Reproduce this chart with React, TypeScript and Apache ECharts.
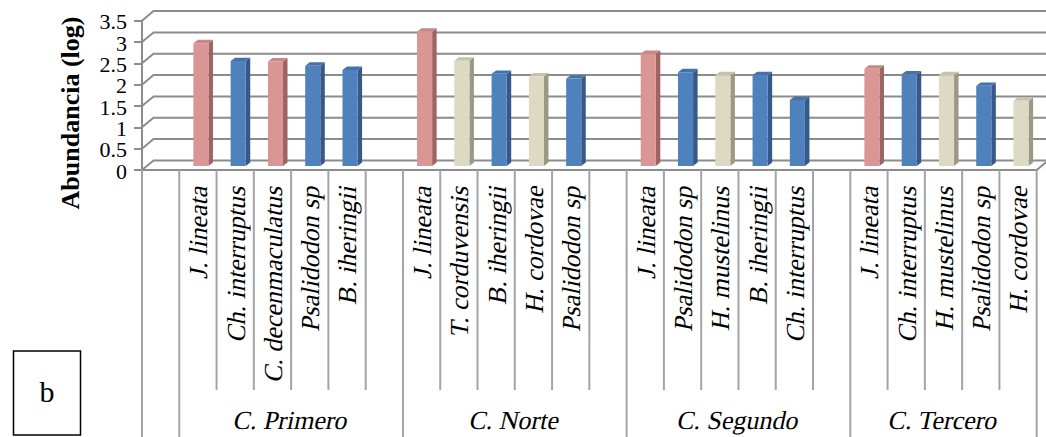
import React, { useEffect, useRef } from "react";
import * as echarts from "echarts";

const WIDTH = 1046;
const HEIGHT = 437;
const SERIF = "serif";
// italic look obtained by slanting the upright serif face
const SLANT = -0.21;

// Sampling sites and how many category slots each one spans
const sites = ["", "C. Primero", "C. Norte", "C. Segundo", "C. Tercero"];
const siteSlots = [1, 6, 6, 6, 5];

// One slot per species; blank slots separate the sites
const species = [
  "",
  "J. lineata", "Ch. interruptus", "C. decenmaculatus", "Psalidodon sp", "B. iheringii", "",
  "J. lineata", "T. corduvensis", "B. iheringii", "H. cordovae", "Psalidodon sp", "",
  "J. lineata", "Psalidodon sp", "H. mustelinus", "B. iheringii", "Ch. interruptus", "",
  "J. lineata", "Ch. interruptus", "H. mustelinus", "Psalidodon sp", "H. cordovae",
];

// Abundance (log) per slot
const abundance: (number | null)[] = [
  null,
  2.88, 2.46, 2.45, 2.35, 2.25, null,
  3.15, 2.47, 2.16, 2.1, 2.05, null,
  2.63, 2.2, 2.13, 2.13, 1.55, null,
  2.28, 2.15, 2.13, 1.88, 1.53,
];

// Colour class of each bar
const barClass = [
  "",
  "rose", "blue", "rose", "blue", "blue", "",
  "rose", "sand", "blue", "sand", "blue", "",
  "rose", "blue", "sand", "blue", "blue", "",
  "rose", "blue", "sand", "blue", "sand",
];

const yTicks = [0, 0.5, 1, 1.5, 2, 2.5, 3, 3.5];

const palette: Record<string, { front: string; side: string; top: string }> = {
  rose: { front: "#D99694", side: "#9C6463", top: "#C88786" },
  blue: { front: "#4F81BD", side: "#36598A", top: "#4572AA" },
  sand: { front: "#DDD9C3", side: "#9B9886", top: "#C6C2AC" },
};

// Pseudo-3D geometry (px)
const WALL_DX = 11.5;
const WALL_DY = -9.6;
const BAR_SHIFT_X = 3;
const BAR_SHIFT_Y = -4;
const BAR_DX = 4.5;
const BAR_DY = -3.4;
const SPECIES_ROW = 220;

const GRID_COLOR = "#8c8c8c";
const SEP_COLOR = "#a4a4a4";

export default function App() {
  const ref = useRef<HTMLDivElement>(null);

  useEffect(() => {
    if (!ref.current) return;
    const chart = echarts.init(ref.current, undefined, { renderer: "svg" });

    const lastSlot = species.length - 1;

    const barData = abundance.flatMap((v, i) => (v == null ? [] : [[i, v]]));
    const wallData = yTicks.map((v) => [0, v]);
    const speciesData = species.flatMap((s, i) => (s === "" ? [] : [[i, 0]]));

    const groupStarts: number[] = [];
    siteSlots.reduce((acc, n) => {
      groupStarts.push(acc);
      return acc + n;
    }, 0);

    const sepData: number[][] = species.map((_, i) => [i, 0, 0, groupStarts.includes(i) ? 1 : 0]);
    sepData.push([lastSlot, 0, 1, 1]);

    const siteData = sites
      .map((name, k) => ({ name, value: [groupStarts[k], 0, siteSlots[k]] }))
      .filter((d) => d.name !== "");

    chart.setOption({
      animation: false,
      textStyle: { fontFamily: SERIF },
      grid: { left: 142, right: 9.3, top: 20.7, bottom: HEIGHT - 170, containLabel: false },
      xAxis: {
        type: "category",
        data: species,
        boundaryGap: true,
        axisLine: { show: true, lineStyle: { color: GRID_COLOR, width: 2 } },
        axisTick: { show: false },
        splitLine: { show: false },
        axisLabel: { show: false },
      },
      yAxis: {
        type: "value",
        min: 0,
        max: 3.5,
        interval: 0.5,
        axisLine: { show: true, lineStyle: { color: GRID_COLOR, width: 2 } },
        axisTick: { show: true, length: 8, lineStyle: { color: GRID_COLOR, width: 2 } },
        splitLine: { show: false },
        axisLabel: { show: false },
      },
      series: [
        {
          // back wall, side wall, floor lines and value labels
          type: "custom",
          clip: false,
          silent: true,
          z: 1,
          data: wallData,
          renderItem: (params: any, api: any) => {
            const v = api.value(1);
            const band = api.size([1, 0])[0];
            const [cx, y] = api.coord([0, v]);
            const xl = cx - band / 2;
            const children: any[] = [
              {
                type: "polyline",
                shape: { points: [[xl, y], [xl + WALL_DX, y + WALL_DY], [api.getWidth() + 2, y + WALL_DY]] },
                style: { stroke: GRID_COLOR, lineWidth: 2, fill: null },
              },
              {
                type: "text",
                x: xl - 15,
                y: y + 1,
                style: {
                  text: String(v),
                  fill: "#000",
                  fontSize: 22,
                  lineHeight: 20,
                  fontFamily: SERIF,
                  align: "right",
                  verticalAlign: "middle",
                },
              },
            ];
            if (v === 0) {
              const xr = api.coord([lastSlot, 0])[0] + band / 2;
              children.push({
                type: "line",
                shape: { x1: xr, y1: y, x2: xr + WALL_DX, y2: y + WALL_DY },
                style: { stroke: GRID_COLOR, lineWidth: 2 },
              });
            }
            return { type: "group", children };
          },
        },
        {
          // 3D columns
          type: "custom",
          clip: false,
          z: 3,
          data: barData,
          renderItem: (params: any, api: any) => {
            const i = api.value(0);
            const v = api.value(1);
            const band = api.size([1, 0])[0];
            const [cx, yBase] = api.coord([i, 0]);
            const yTop = api.coord([i, v])[1];
            const w = band * 0.405;
            const x1 = cx - w / 2 + BAR_SHIFT_X;
            const x2 = x1 + w;
            const yb = yBase + BAR_SHIFT_Y;
            const yt = yTop + BAR_SHIFT_Y;
            const c = palette[barClass[i]];
            return {
              type: "group",
              children: [
                {
                  type: "polygon",
                  shape: { points: [[x2, yb], [x2, yt], [x2 + BAR_DX, yt + BAR_DY], [x2 + BAR_DX, yb + BAR_DY]] },
                  style: { fill: c.side },
                },
                {
                  type: "polygon",
                  shape: { points: [[x1, yt], [x2, yt], [x2 + BAR_DX, yt + BAR_DY], [x1 + BAR_DX, yt + BAR_DY]] },
                  style: { fill: c.top },
                },
                {
                  type: "rect",
                  shape: { x: x1, y: yt, width: w, height: yb - yt },
                  style: { fill: c.front },
                },
              ],
            };
          },
        },
        {
          // species names, rotated under each slot
          type: "custom",
          clip: false,
          silent: true,
          z: 2,
          data: speciesData,
          renderItem: (params: any, api: any) => {
            const i = api.value(0);
            const [cx, y0] = api.coord([i, 0]);
            return {
              type: "text",
              x: cx + 1,
              y: y0 + 15,
              rotation: Math.PI / 2,
              skewX: SLANT,
              style: {
                text: species[i],
                fill: "#000",
                fontSize: 26,
                fontFamily: SERIF,
                align: "right",
                verticalAlign: "middle",
              },
            };
          },
        },
        {
          // category separators below the axis
          type: "custom",
          clip: false,
          silent: true,
          z: 2,
          data: sepData,
          renderItem: (params: any, api: any) => {
            const slot = api.value(0);
            const side = api.value(2);
            const full = api.value(3);
            const band = api.size([1, 0])[0];
            const [cx, y0] = api.coord([slot, 0]);
            const x = cx + (side - 0.5) * band;
            const yEnd = full ? api.getHeight() : y0 + SPECIES_ROW;
            return {
              type: "line",
              shape: { x1: x, y1: y0, x2: x, y2: yEnd },
              style: { stroke: SEP_COLOR, lineWidth: 2 },
            };
          },
        },
        {
          // site labels
          type: "custom",
          clip: false,
          silent: true,
          z: 2,
          data: siteData,
          renderItem: (params: any, api: any) => {
            const start = api.value(0);
            const count = api.value(2);
            const band = api.size([1, 0])[0];
            const [cx, y0] = api.coord([start, 0]);
            const x = cx - band / 2 + (count * band) / 2;
            return {
              type: "text",
              x,
              y: y0 + 251,
              skewX: SLANT,
              style: {
                text: siteData[params.dataIndex].name,
                fill: "#000",
                fontSize: 26,
                fontFamily: SERIF,
                align: "center",
                verticalAlign: "middle",
              },
            };
          },
        },
      ],
      graphic: [
        {
          type: "text",
          x: 70,
          y: 113,
          rotation: Math.PI / 2,
          style: {
            text: "Abundancia (log)",
            fill: "#000",
            fontSize: 26,
            fontWeight: "bold",
            fontFamily: SERIF,
            align: "center",
            verticalAlign: "middle",
          },
        },
        {
          type: "rect",
          shape: { x: 13.5, y: 351, width: 67, height: 84 },
          style: { fill: "#fff", stroke: "#000", lineWidth: 1.5 },
        },
        {
          type: "text",
          x: 47,
          y: 391,
          style: {
            text: "b",
            fill: "#000",
            fontSize: 30,
            fontFamily: SERIF,
            align: "center",
            verticalAlign: "middle",
          },
        },
      ],
    });

    return () => chart.dispose();
  }, []);

  return (
    <div
      ref={ref}
      style={{ position: "absolute", left: 0, top: 0, width: WIDTH, height: HEIGHT, background: "#fff" }}
    />
  );
}
